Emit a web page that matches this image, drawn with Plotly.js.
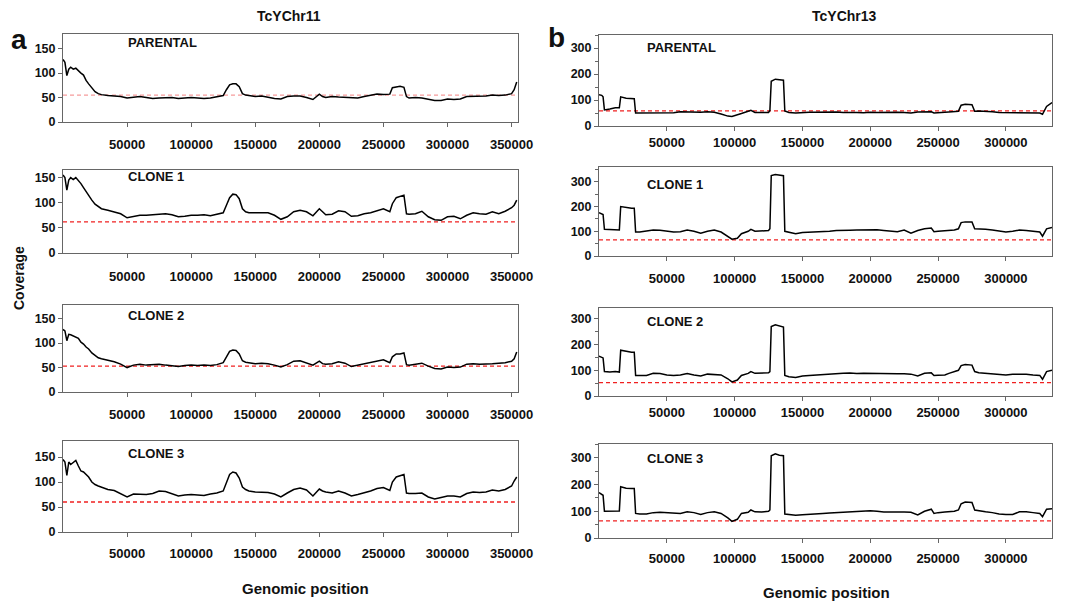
<!DOCTYPE html>
<html><head><meta charset="utf-8">
<script src="https://cdn.plot.ly/plotly-3.0.1.min.js"></script>
<style>html,body{margin:0;padding:0;background:#fff}#chart{width:1077px;height:602px}</style>
</head><body><div id="chart"></div>
<script>
// ---------- DATA ----------
const chr11Pos = [0,1500,3000,4500,6000,8000,10000,12000,14000,16000,18000,20000,22500,25000,27500,30000,35000,40000,45000,50000,55000,60000,65000,70000,75000,80000,85000,90000,95000,100000,105000,110000,115000,120000,125000,127500,130000,132500,135000,137500,140000,142500,145000,150000,155000,160000,165000,170000,175000,180000,185000,190000,195000,200000,202500,205000,210000,215000,220000,225000,230000,235000,240000,245000,250000,255000,257000,260000,263000,266000,268000,270000,275000,280000,285000,290000,295000,300000,305000,310000,315000,320000,325000,330000,335000,340000,345000,350000,352000,354000];
const chr11Parental = [128,122,95,108,112,108,110,104,100,96,85,78,70,62,58,56,54,53,52,49,50,52,50,48,49,50,50,48,49,50,49,48,49,51,54,66,76,78,78,72,58,55,54,52,53,50,48,47,52,53,53,50,46,57,52,50,52,51,50,50,49,52,55,57,56,57,70,71,73,71,52,49,50,49,46,44,44,47,46,47,52,52,52,53,55,54,55,58,66,82];
const chr11Clone1 = [155,150,125,145,150,146,150,145,138,130,122,115,105,97,92,88,85,82,78,70,73,75,75,76,78,78,76,72,73,75,75,76,74,77,80,95,110,117,116,108,88,82,80,80,80,80,75,67,72,82,85,82,74,88,82,76,77,84,82,73,74,78,80,84,88,82,98,110,112,115,78,77,78,83,72,66,65,72,73,68,75,80,78,77,82,78,83,90,95,105];
const chr11Clone2 = [128,125,105,118,117,115,113,110,102,98,92,88,80,74,70,68,65,62,57,50,55,57,55,56,57,55,54,52,54,55,54,55,54,56,60,72,83,86,85,78,64,61,60,58,59,58,55,51,56,63,64,60,55,63,58,57,58,62,59,52,55,57,60,63,66,60,72,78,78,80,56,55,57,59,53,48,47,51,50,51,57,58,57,57,58,59,60,63,68,82];
const chr11Clone3 = [145,140,113,140,135,140,143,132,122,120,115,110,100,95,92,90,85,83,76,70,76,76,75,77,82,81,77,72,74,75,74,73,76,78,82,100,115,120,118,108,90,85,82,80,80,79,76,70,78,85,88,84,72,86,82,80,78,82,78,72,75,78,82,87,89,83,100,110,112,115,78,77,77,78,70,66,69,72,72,70,77,80,79,80,84,82,85,92,102,110];

const chr13Pos = [0,2000,3000,4000,8000,12000,15000,16000,20000,24000,26000,27000,30000,35000,40000,45000,50000,55000,60000,65000,70000,75000,80000,85000,90000,95000,98000,102000,105000,110000,112000,115000,120000,125000,126000,127000,130000,133000,136000,137000,140000,145000,150000,155000,160000,165000,170000,175000,180000,185000,190000,195000,200000,205000,210000,215000,220000,225000,230000,235000,240000,245000,247000,250000,255000,258000,262000,265000,267000,270000,275000,277000,280000,285000,290000,295000,300000,305000,310000,315000,320000,325000,327000,330000,334000];
const chr13Parental = [120,118,112,62,65,70,70,112,107,105,105,50,50,52,52,52,50,51,55,54,52,53,55,53,46,38,37,42,48,57,60,52,52,52,60,172,180,178,176,58,52,50,52,
  53,53,54,55,54,52,53,52,51,53,52,53,52,53,52,50,54,55,55,
  50,52,53,54,55,57,80,84,82,57,
  58,57,55,52,52,50,51,52,52,50,
  45,75,90];
const chr13Clone1 = [175,172,168,108,108,107,105,200,195,193,193,97,97,100,105,104,100,97,98,105,100,92,100,105,97,80,68,72,90,100,108,100,102,103,110,325,330,328,325,100,97,90,95,
  96,97,99,100,103,102,104,105,106,107,106,103,100,98,105,92,103,110,113,
  98,100,103,104,105,110,135,138,138,110,
  110,108,105,102,97,100,105,103,100,97,
  80,110,115];
const chr13Clone2 = [155,152,148,95,93,95,93,178,173,170,170,80,80,80,88,87,82,80,82,87,82,78,85,84,82,67,55,62,80,88,95,88,88,90,95,270,277,272,268,80,75,72,78,
  80,82,84,85,86,88,89,87,88,87,86,86,85,86,86,85,78,88,90,
  80,81,82,88,95,100,118,122,120,95,
  90,88,86,82,82,85,86,85,82,80,
  65,95,100];
const chr13Clone3 = [170,165,160,100,100,102,101,192,186,185,185,92,90,90,95,96,95,93,92,98,95,88,95,98,92,75,62,70,92,96,105,98,97,100,105,308,315,310,308,90,88,85,87,
  88,90,92,94,95,97,98,98,100,102,100,97,97,98,97,96,86,100,108,
  92,95,97,98,100,105,128,135,133,105,
  102,98,95,90,88,88,98,98,95,92,
  80,108,110];

const panelNames = ['PARENTAL','CLONE 1','CLONE 2','CLONE 3'];
const chromosomes = ['TcYChr11','TcYChr13'];
const chr11Threshold = [55,62,53,60];
const chr13Threshold = [58,65,52,64];
const chr11YMax = [180,165,178,182];
const chr13YMax = [350,360,342,352];
const chr11XMax = 355000;
const chr13XMax = 334000;
const chr11Ticks = [50000,100000,150000,200000,250000,300000,350000];
const chr13Ticks = [50000,100000,150000,200000,250000,300000];

// ---------- LAYOUT GEOMETRY (pixels) ----------
const W = 1077, H = 602;
const px = x => x / W;
const py = y => 1 - y / H;
const cols = [
  {x:[63,518], rows:[[34,122],[170,253],[305,392],[441,532]], standoff:[6,7,6,5], pos:chr11Pos,
   series:[chr11Parental,chr11Clone1,chr11Clone2,chr11Clone3], thr:chr11Threshold, ymax:chr11YMax,
   xmax:chr11XMax, ticks:chr11Ticks, dtick:50, minor:false, labelX:126, labelY:[42,176,315,453]},
  {x:[599,1052], rows:[[35,126],[167,256],[308,396],[444,538]], standoff:[0,6,0,4], pos:chr13Pos,
   series:[chr13Parental,chr13Clone1,chr13Clone2,chr13Clone3], thr:chr13Threshold, ymax:chr13YMax,
   xmax:chr13XMax, ticks:chr13Ticks, dtick:100, minor:true, labelX:645, labelY:[47,184,321,458]}
];

const FONT = 'Arial, "Liberation Sans", sans-serif';
const traces = [];
const layout = {
  width: W, height: H,
  margin: {l:0, r:0, t:0, b:0},
  paper_bgcolor: '#fff', plot_bgcolor: '#fff',
  showlegend: false,
  font: {family: FONT, color: '#111'},
  annotations: []
};

let n = 0;
cols.forEach((c, ci) => {
  c.series.forEach((ys, ri) => {
    n++;
    const xa = 'x' + (n === 1 ? '' : n), ya = 'y' + (n === 1 ? '' : n);
    const xk = 'xaxis' + (n === 1 ? '' : n), yk = 'yaxis' + (n === 1 ? '' : n);
    traces.push({
      x: [0, c.xmax], y: [c.thr[ri], c.thr[ri]], xaxis: xa, yaxis: ya, mode: 'lines',
      line: {color: (ci === 0 && ri === 0) ? 'rgba(240,90,90,0.6)' : '#f02020', width: 1.3, dash: '4px,3px'},
      hoverinfo: 'skip'
    });
    traces.push({
      x: c.pos, y: ys, xaxis: xa, yaxis: ya, mode: 'lines',
      line: {color: '#000', width: 1.5}
    });
    const r = c.rows[ri];
    layout[xk] = {
      domain: [px(c.x[0]), px(c.x[1])], anchor: ya, range: [0, c.xmax],
      tickmode: 'array', tickvals: c.ticks, ticktext: c.ticks.map(String),
      showline: true, mirror: true, linecolor: '#666', linewidth: 1,
      ticks: 'outside', ticklen: 4, tickcolor: '#666', ticklabelstandoff: c.standoff[ri],
      tickfont: {family: FONT, size: 13, color: '#111', weight: 'bold'},
      showgrid: false, zeroline: false, fixedrange: true
    };
    const ya_ = {
      domain: [py(r[1]), py(r[0])], anchor: xa, range: [0, c.ymax[ri]],
      tick0: 0, dtick: c.dtick,
      showline: true, mirror: true, linecolor: '#666', linewidth: 1,
      ticks: 'outside', ticklen: 4, tickcolor: '#666',
      tickfont: {family: FONT, size: 12.5, color: '#111', weight: 'bold'},
      showgrid: false, zeroline: false, fixedrange: true
    };
    if (c.minor) ya_.minor = {dtick: c.dtick / 2, ticks: 'outside', ticklen: 3, tickcolor: '#666', showgrid: false};
    layout[yk] = ya_;
    layout.annotations.push({
      text: panelNames[ri], xref: 'paper', yref: 'paper', x: px(c.labelX), y: py(c.labelY[ri]),
      xanchor: 'left', yanchor: 'middle', showarrow: false,
      font: {family: FONT, size: 13, color: '#111', weight: 'bold'}
    });
  });
});

const extra = [
  {text: chromosomes[0], x: 289, y: 16, size: 14},
  {text: chromosomes[1], x: 844, y: 16, size: 14},
  {text: 'a', x: 19, y: 40, size: 28},
  {text: 'b', x: 556, y: 38, size: 28},
  {text: 'Genomic position', x: 305, y: 588, size: 15},
  {text: 'Genomic position', x: 826, y: 592, size: 15}
];
extra.forEach(e => layout.annotations.push({
  text: e.text, xref: 'paper', yref: 'paper', x: px(e.x), y: py(e.y),
  xanchor: 'center', yanchor: 'middle', showarrow: false,
  font: {family: FONT, size: e.size, color: '#111', weight: 'bold'}
}));
layout.annotations.push({
  text: 'Coverage', xref: 'paper', yref: 'paper', x: px(19), y: py(278), textangle: -90,
  xanchor: 'center', yanchor: 'middle', showarrow: false,
  font: {family: FONT, size: 14, color: '#111', weight: 'bold'}
});

Plotly.newPlot('chart', traces, layout, {staticPlot: true, displayModeBar: false});
</script>
</body></html>
